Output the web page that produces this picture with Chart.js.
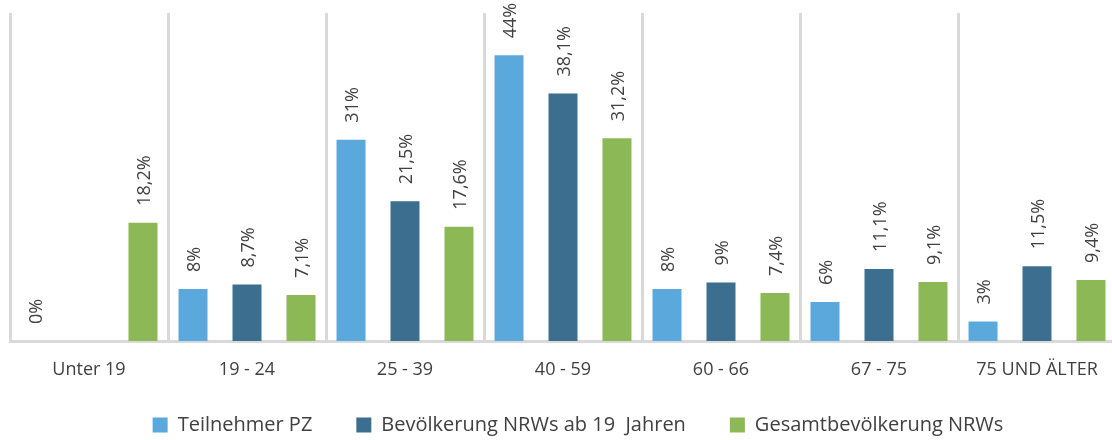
<!DOCTYPE html>
<html>
<head>
<meta charset="utf-8">
<script src="https://cdn.jsdelivr.net/npm/chart.js@4.4.1/dist/chart.umd.min.js"></script>
<style>
  html, body { margin: 0; padding: 0; background: #fff; overflow: hidden; }
  #wrap { position: relative; width: 1120px; height: 440px; }
</style>
</head>
<body>
<div id="wrap"><canvas id="ageChart" width="1120" height="440"></canvas></div>
<script>
const categories = ['Unter 19', '19 - 24', '25 - 39', '40 - 59', '60 - 66', '67 - 75', '75 UND ÄLTER'];
const teilnehmerPZ = [0, 8, 31, 44, 8, 6, 3];
const bevoelkerungAb19 = [null, 8.7, 21.5, 38.1, 9, 11.1, 11.5];
const gesamtNRW = [18.2, 7.1, 17.6, 31.2, 7.4, 9.1, 9.4];
const seriesNames = ['Teilnehmer PZ', 'Bevölkerung NRWs ab 19  Jahren', 'Gesamtbevölkerung NRWs'];

const textColor = '#404040';
const fontFamily = '"Open Sans", Lato, sans-serif';

// rotated value labels above each bar
const barLabels = {
  id: 'barLabels',
  afterDatasetsDraw(chart) {
    const ctx = chart.ctx;
    ctx.save();
    ctx.fillStyle = textColor;
    ctx.font = '18px ' + fontFamily;
    ctx.textAlign = 'left';
    ctx.textBaseline = 'middle';
    chart.data.datasets.forEach((ds, i) => {
      chart.getDatasetMeta(i).data.forEach((bar, j) => {
        const v = ds.data[j];
        if (v === null || v === undefined) return;
        const txt = String(v).replace('.', ',') + '%';
        ctx.save();
        ctx.translate(bar.x + 2, bar.y - 17);
        ctx.rotate(-Math.PI / 2);
        ctx.fillText(txt, 0, 0);
        ctx.restore();
      });
    });
    ctx.restore();
  }
};

// legend sits a bit right of centre and a bit higher in the original
const legendShift = {
  id: 'legendShift',
  afterLayout(chart) {
    const lg = chart.legend;
    lg.left += 15;
    lg.right += 15;
    lg.top -= 10;
    lg.bottom -= 10;
  }
};

new Chart(document.getElementById('ageChart'), {
  type: 'bar',
  data: {
    labels: categories,
    datasets: [{
      label: seriesNames[0],
      data: teilnehmerPZ,
      backgroundColor: '#5BA8DD'
    }, {
      label: seriesNames[1],
      data: bevoelkerungAb19,
      backgroundColor: '#3C6E8F'
    }, {
      label: seriesNames[2],
      data: gesamtNRW,
      backgroundColor: '#8CB855'
    }]
  },
  options: {
    responsive: false,
    animation: false,
    categoryPercentage: 1.025,
    barPercentage: 0.537,
    layout: {
      padding: { left: 10, right: 4, top: 13, bottom: -15 }
    },
    scales: {
      x: {
        grid: { color: '#D9D9D9', lineWidth: 3, drawTicks: false, offset: true },
        border: { color: '#D9D9D9', width: 3 },
        ticks: { color: textColor, font: { family: fontFamily, size: 18 }, padding: 18, maxRotation: 0 },
        afterFit(scale) { scale.height = 40; }
      },
      y: {
        display: false,
        min: 0,
        max: 50.5
      }
    },
    plugins: {
      tooltip: { enabled: false },
      legend: {
        position: 'bottom',
        labels: {
          color: textColor,
          font: { family: fontFamily, size: 20 },
          boxWidth: 15,
          boxHeight: 15,
          padding: 44
        }
      }
    }
  },
  plugins: [barLabels, legendShift]
});
</script>
</body>
</html>
